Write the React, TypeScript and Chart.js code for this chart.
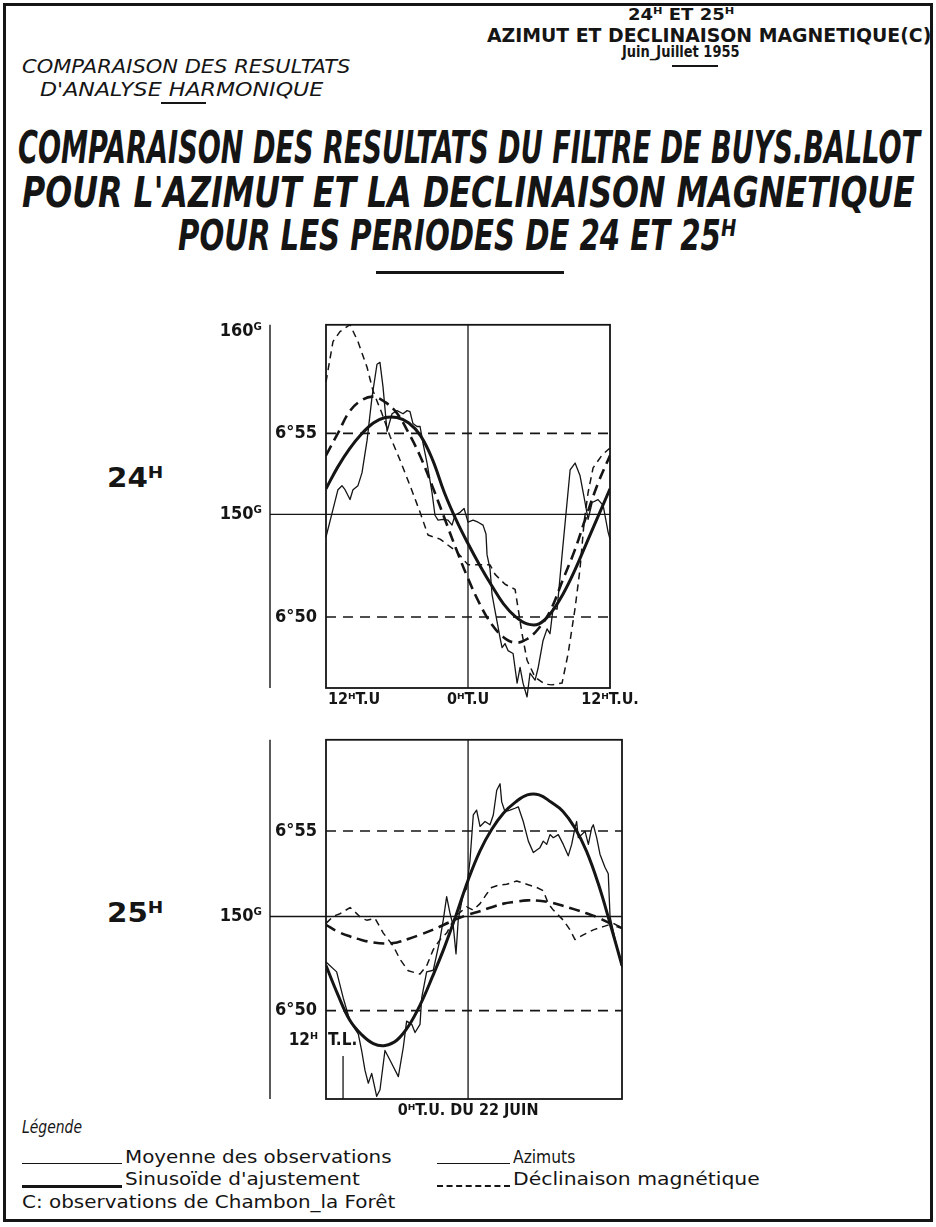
import React, { useEffect, useLayoutEffect, useRef, useState } from 'react';
import { Chart, registerables } from 'chart.js';

Chart.register(...registerables);

const INK = '#151515';
const LETTER = "'DejaVu Sans Condensed', 'Liberation Sans Narrow', 'DejaVu Sans', sans-serif";
const PLAIN = "'DejaVu Sans', 'Liberation Sans', sans-serif";

// ---------------- DATA ----------------
// Upper panel (24h period). x = hours counted from 12h T.U. (0 .. 24)
const fitHours24 = [0, 1, 2, 3, 4, 5, 6, 7, 8, 9, 10, 11, 12, 13, 14, 15, 16, 17, 18, 19, 20, 21, 22, 23, 24];
// Azimut, sinusoid of adjustment (grades)
const azFit24 = [151.4, 152.6, 153.6, 154.4, 155.0, 155.3, 155.3, 155.0, 154.3, 153.0, 151.2, 149.7, 148.4, 147.2, 146.1, 145.1, 144.4, 144.0, 144.0, 144.6, 145.6, 146.9, 148.4, 149.9, 151.4];
// Declination, sinusoid of adjustment (minutes after 6°)
const decFit24 = [54.4, 55.0, 55.6, 55.9, 56.0, 55.85, 55.55, 55.0, 54.35, 53.55, 52.7, 51.85, 51.05, 50.35, 49.8, 49.45, 49.3, 49.4, 49.7, 50.2, 51.0, 51.8, 52.75, 53.65, 54.4];
// Azimut, mean of observations [hour, grades]
const azObs24 = [
  [0, 148.76], [0.59, 150.27], [1.01, 151.35], [1.35, 151.57], [1.61, 151.35], [2.03, 150.81], [2.28, 151.35],
  [2.7, 151.57], [3.04, 152.27], [3.47, 154.05], [3.89, 156.43], [4.31, 158.22], [4.56, 158.32], [4.82, 156.97],
  [5.16, 154.54], [5.58, 155.51], [6.0, 155.68], [6.51, 155.51], [6.85, 155.68], [7.1, 155.62], [7.35, 154.97],
  [7.69, 154.81], [7.95, 154.81], [8.2, 153.89], [8.54, 152.81], [8.96, 151.19], [9.21, 149.95], [9.47, 149.68],
  [9.89, 149.73], [10.31, 149.68], [10.65, 149.41], [10.9, 149.95], [11.33, 150.11], [11.67, 150.32], [12.0, 149.57],
  [12.43, 149.68], [12.85, 149.57], [13.27, 149.41], [13.52, 148.92], [13.61, 147.78], [13.86, 147.03], [14.03, 145.62],
  [14.29, 144.7], [14.71, 143.24], [14.88, 142.7], [15.13, 142.92], [15.38, 142.54], [15.81, 142.38], [16.15, 140.76],
  [16.4, 141.62], [16.65, 140.76], [16.99, 140.0], [17.24, 141.3], [17.67, 140.92], [17.92, 141.57], [18.34, 143.08],
  [18.68, 143.73], [18.93, 143.46], [19.19, 144.86], [19.53, 144.81], [19.95, 147.78], [20.63, 152.43], [21.05, 152.81],
  [21.47, 152.11], [21.89, 150.65], [22.15, 149.73], [22.49, 150.65], [22.99, 150.81], [23.42, 150.49], [23.84, 149.03],
  [24.0, 148.65],
];
// Declination, mean of observations [hour, minutes after 6°]
const decObs24 = [
  [0, 56.4], [0.59, 57.5], [1.18, 57.77], [2.03, 57.96], [2.7, 57.5], [3.47, 56.8], [3.97, 56.16], [4.73, 55.54],
  [5.41, 54.92], [6.26, 54.27], [7.1, 53.58], [7.95, 52.85], [8.62, 52.23], [9.64, 52.12], [11.07, 51.77], [12.0, 51.42],
  [13.86, 51.42], [14.29, 51.16], [15.13, 50.89], [15.98, 50.75], [16.23, 50.24], [16.57, 49.54], [16.99, 48.82],
  [17.67, 48.36], [18.51, 48.17], [19.1, 48.15], [19.95, 48.2], [20.46, 49.0], [21.05, 50.24], [21.47, 51.32],
  [21.81, 52.58], [22.15, 53.39], [22.57, 54.06], [23.33, 54.41], [24.0, 54.6],
];

// Lower panel (25h period). x = hours counted from 12h T.U. of 21 June (0 .. 25)
const fitHours25 = [0, 1, 2, 3, 4, 5, 6, 7, 8, 9, 10, 11, 12, 13, 14, 15, 16, 17, 18, 19, 20, 21, 22, 23, 24, 25];
const azFit25 = [147.3, 145.7, 144.3, 143.5, 143.0, 142.9, 143.2, 144.0, 145.2, 146.7, 148.3, 150.1, 152.0, 153.6, 154.8, 155.7, 156.3, 156.7, 156.7, 156.3, 155.8, 154.9, 153.6, 151.8, 149.6, 147.3];
const decFit25 = [52.39, 52.2, 52.07, 51.97, 51.9, 51.87, 51.9, 52.0, 52.12, 52.25, 52.4, 52.55, 52.67, 52.77, 52.88, 52.98, 53.03, 53.07, 53.06, 53.01, 52.92, 52.82, 52.71, 52.59, 52.43, 52.3];
const azObs25 = [
  [0, 147.49], [0.9, 146.95], [1.46, 145.5], [2.03, 144.24], [2.73, 143.52], [3.01, 142.62], [3.29, 141.54],
  [3.57, 140.82], [3.86, 141.36], [4.28, 140.1], [4.56, 140.46], [4.98, 142.62], [5.41, 142.08], [6.11, 141.18],
  [6.53, 142.8], [6.81, 144.24], [7.24, 144.06], [7.52, 143.61], [7.94, 144.06], [8.08, 145.5], [8.5, 146.95],
  [9.06, 147.04], [9.63, 148.75], [9.91, 149.83], [10.19, 151.09], [10.47, 150.19], [10.75, 149.47], [10.98, 147.94],
  [11.17, 149.83], [11.6, 151.27], [11.88, 151.54], [12.16, 153.07], [12.44, 155.59], [12.72, 155.86], [13.01, 154.96],
  [13.43, 155.23], [13.85, 155.05], [14.13, 155.59], [14.42, 156.95], [14.7, 157.31], [14.84, 156.31], [15.12, 155.77],
  [15.54, 155.86], [15.96, 155.96], [16.24, 156.04], [16.66, 155.23], [17.09, 154.15], [17.51, 153.52], [18.07, 153.79],
  [18.35, 154.15], [18.64, 153.97], [18.92, 154.51], [19.2, 154.34], [19.62, 154.51], [20.04, 153.97], [20.46, 153.34],
  [20.75, 153.97], [21.03, 154.88], [21.17, 155.23], [21.31, 154.34], [21.6, 154.51], [21.88, 154.69], [22.16, 153.97],
  [22.44, 154.88], [22.58, 155.05], [22.86, 154.34], [23.14, 153.43], [23.56, 152.71], [23.84, 152.35], [23.99, 150.0],
  [24.4, 148.8], [25, 147.2],
];
const decObs25 = [
  [0, 52.43], [0.62, 52.63], [1.18, 52.7], [2.03, 52.87], [2.45, 52.75], [3.01, 52.57], [3.44, 52.52], [4.14, 52.57],
  [4.84, 52.16], [5.68, 51.8], [6.25, 51.43], [6.95, 51.11], [7.94, 51.02], [8.5, 51.25], [9.06, 51.7], [9.63, 51.98],
  [10.19, 52.16], [10.62, 52.43], [11.04, 52.66], [11.88, 52.89], [12.44, 52.8], [13.01, 52.98], [13.57, 53.25],
  [13.99, 53.43], [14.42, 53.48], [15.26, 53.52], [16.11, 53.61], [16.95, 53.52], [17.8, 53.43], [18.35, 53.34],
  [18.78, 52.98], [19.2, 52.8], [20.04, 52.52], [20.61, 52.25], [21.03, 51.98], [21.73, 52.11], [22.58, 52.25],
  [23.42, 52.34], [24.27, 52.43], [25, 52.3],
];

// axis ticks
const azTicks24 = [150, 160];
const azTicks25 = [150];
const decTicks = [50, 55]; // 6°50 and 6°55
const xLabels24 = [
  { value: 0, text: '12ᴴT.U', align: 'left' },
  { value: 12, text: '0ᴴT.U', align: 'center' },
  { value: 24, text: '12ᴴT.U.', align: 'center' },
];
const xLabels25 = [{ value: 12, text: '0ᴴT.U. DU 22 JUIN', align: 'center' }];
const tlMarkHour = 1.44; // "12ᴴ T.L." mark on the lower panel
const tlMarkTop = 48.74;

// ---------------- CHART ----------------
type Spec = {
  box: { left: number; top: number; width: number; height: number };
  padding: { top: number; right: number; bottom: number; left: number };
  xMax: number;
  mid: number;
  az: [number, number];
  dec: [number, number];
  azTicks: number[];
  fitHours: number[];
  azFit: number[];
  decFit: number[];
  azObs: number[][];
  decObs: number[][];
  xLabels: { value: number; text: string; align: string }[];
  tl?: boolean;
};

const topSpec: Spec = {
  box: { left: 190, top: 305, width: 460, height: 430 },
  padding: { top: 15, right: 40, bottom: 47, left: 0 },
  xMax: 24,
  mid: 12,
  az: [140.49, 160.38],
  dec: [48.065, 57.957],
  azTicks: azTicks24,
  fitHours: fitHours24,
  azFit: azFit24,
  decFit: decFit24,
  azObs: azObs24,
  decObs: decObs24,
  xLabels: xLabels24,
};

const bottomSpec: Spec = {
  box: { left: 190, top: 720, width: 460, height: 420 },
  padding: { top: 13, right: 28, bottom: 41, left: 0 },
  xMax: 25,
  mid: 12,
  az: [139.95, 159.73],
  dec: [47.541, 57.541],
  azTicks: azTicks25,
  fitHours: fitHours25,
  azFit: azFit25,
  decFit: decFit25,
  azObs: azObs25,
  decObs: decObs25,
  xLabels: xLabels25,
  tl: true,
};

function makePlugin(spec: Spec) {
  const line = (ctx: CanvasRenderingContext2D, x1: number, y1: number, x2: number, y2: number) => {
    ctx.beginPath();
    ctx.moveTo(x1, y1);
    ctx.lineTo(x2, y2);
    ctx.stroke();
  };
  return {
    id: 'frame',
    beforeDatasetsDraw(chart: any) {
      const { ctx, chartArea: a, scales } = chart;
      const x = scales.x, az = scales.az, dec = scales.dec;
      ctx.save();
      ctx.strokeStyle = INK;
      ctx.lineWidth = 1.4;
      line(ctx, az.right, a.top, az.right, a.bottom);
      ctx.lineWidth = 1.8;
      ctx.strokeRect(a.left, a.top, a.right - a.left, a.bottom - a.top);
      ctx.lineWidth = 1.3;
      const xm = x.getPixelForValue(spec.mid);
      line(ctx, xm, a.top, xm, a.bottom);
      const y150 = az.getPixelForValue(150);
      line(ctx, az.right, y150, a.right, y150);
      ctx.lineWidth = 1.6;
      ctx.setLineDash([10, 7]);
      decTicks.forEach((v) => {
        const y = dec.getPixelForValue(v);
        line(ctx, a.left, y, a.right, y);
      });
      ctx.setLineDash([]);
      if (spec.tl) {
        const xt = x.getPixelForValue(tlMarkHour);
        const yt = dec.getPixelForValue(tlMarkTop);
        ctx.lineWidth = 1.3;
        line(ctx, xt, yt, xt, a.bottom);
      }
      ctx.restore();
    },
    afterDatasetsDraw(chart: any) {
      const { ctx, chartArea: a, scales } = chart;
      const x = scales.x, dec = scales.dec;
      ctx.save();
      ctx.fillStyle = INK;
      ctx.font = `bold 16px ${LETTER}`;
      ctx.textBaseline = 'middle';
      spec.xLabels.forEach((l) => {
        ctx.textAlign = l.align as CanvasTextAlign;
        const px = x.getPixelForValue(l.value) + (l.align === 'left' ? 2 : 0);
        ctx.fillText(l.text, px, a.bottom + 12);
      });
      if (spec.tl) {
        const yt = dec.getPixelForValue(tlMarkTop) - 15;
        ctx.font = `bold 17px ${LETTER}`;
        ctx.textAlign = 'right';
        ctx.fillText('12ᴴ', a.left - 8, yt);
        ctx.textAlign = 'left';
        ctx.fillText('T.L.', a.left + 2, yt);
      }
      ctx.restore();
    },
  };
}

function buildConfig(spec: Spec): any {
  const fitPts = (vals: number[]) => spec.fitHours.map((h, i) => ({ x: h, y: vals[i] }));
  const obsPts = (pairs: number[][]) => pairs.map((p) => ({ x: p[0], y: p[1] }));
  const base = { borderColor: INK, pointRadius: 0, fill: false, borderCapStyle: 'butt', borderJoinStyle: 'round' };
  return {
    type: 'line',
    data: {
      datasets: [
        { ...base, label: 'Azimuts — moyenne des observations', data: obsPts(spec.azObs), yAxisID: 'az', borderWidth: 1.3, tension: 0, clip: false },
        { ...base, label: "Azimuts — sinusoïde d'ajustement", data: fitPts(spec.azFit), yAxisID: 'az', borderWidth: 3, tension: 0.4 },
        { ...base, label: 'Déclinaison — moyenne des observations', data: obsPts(spec.decObs), yAxisID: 'dec', borderWidth: 1.5, borderDash: [7, 5], tension: 0, clip: false },
        { ...base, label: "Déclinaison — sinusoïde d'ajustement", data: fitPts(spec.decFit), yAxisID: 'dec', borderWidth: 2.6, borderDash: [11, 6], tension: 0.4 },
      ],
    },
    options: {
      animation: false,
      responsive: false,
      events: [],
      layout: { padding: spec.padding, autoPadding: false },
      plugins: { legend: { display: false }, tooltip: { enabled: false } },
      scales: {
        x: { type: 'linear', min: 0, max: spec.xMax, display: false },
        dec: {
          type: 'linear',
          position: 'left',
          weight: 0,
          min: spec.dec[0],
          max: spec.dec[1],
          afterBuildTicks: (s: any) => { s.ticks = decTicks.map((v) => ({ value: v })); },
          afterFit: (s: any) => { s.width = 56; },
          grid: { display: false, drawTicks: false },
          border: { display: false },
          ticks: { callback: (v: number) => `6°${v}`, color: INK, padding: 9, font: { family: LETTER, size: 18, weight: 'bold' } },
        },
        az: {
          type: 'linear',
          position: 'left',
          weight: 1,
          min: spec.az[0],
          max: spec.az[1],
          afterBuildTicks: (s: any) => { s.ticks = spec.azTicks.map((v) => ({ value: v })); },
          afterFit: (s: any) => { s.width = 80; },
          grid: { display: false, drawTicks: false },
          border: { display: false },
          ticks: { callback: (v: number) => `${v}ᴳ`, color: INK, padding: 8, font: { family: LETTER, size: 18, weight: 'bold' } },
        },
      },
    },
    plugins: [makePlugin(spec)],
  };
}

function Panel({ spec }: { spec: Spec }) {
  const ref = useRef<HTMLCanvasElement>(null);
  useEffect(() => {
    if (!ref.current) return;
    const chart = new Chart(ref.current, buildConfig(spec));
    return () => chart.destroy();
  }, [spec]);
  const b = spec.box;
  return (
    <canvas
      ref={ref}
      width={b.width}
      height={b.height}
      style={{ position: 'absolute', left: b.left, top: b.top, width: b.width, height: b.height }}
    />
  );
}

// ---------------- TEXT ----------------
function FitText(props: {
  x: number; capTop: number; capH: number; width: number; text: string;
  weight?: number; italic?: boolean; family?: string;
}) {
  const { x, capTop, capH, width, text, weight = 700, italic = false, family = LETTER } = props;
  const ref = useRef<HTMLSpanElement>(null);
  const [sx, setSx] = useState(1);
  const fs = capH / 0.73;
  useLayoutEffect(() => {
    const el = ref.current;
    if (el && el.offsetWidth > 0) setSx(width / el.offsetWidth);
  }, [width, text, fs]);
  return (
    <span
      ref={ref}
      style={{
        position: 'absolute', left: x, top: capTop - 0.12 * fs, fontSize: fs, lineHeight: 1,
        fontFamily: family, fontWeight: weight, fontStyle: italic ? 'italic' : 'normal',
        whiteSpace: 'nowrap', transform: `scaleX(${sx})`, transformOrigin: '0 0', color: INK,
      }}
    >
      {text}
    </span>
  );
}

function HLine({ x1, x2, y, w = 2, dash = false }: { x1: number; x2: number; y: number; w?: number; dash?: boolean }) {
  return (
    <div style={{ position: 'absolute', left: x1, top: y - w / 2, width: x2 - x1, height: 0, borderTop: `${w}px ${dash ? 'dashed' : 'solid'} ${INK}` }} />
  );
}

export default function App() {
  return (
    <div style={{ position: 'absolute', left: 0, top: 0, width: 936, height: 1227, background: '#fff', overflow: 'hidden' }}>
      <div style={{ position: 'absolute', left: 3, top: 3, width: 930, height: 1219, border: `3px solid ${INK}`, boxSizing: 'border-box' }} />

      <FitText x={628} capTop={9} capH={12} width={106} text="24ᴴ ET 25ᴴ" />
      <FitText x={487} capTop={28} capH={14} width={444} text="AZIMUT ET DECLINAISON MAGNETIQUE(C)" />
      <FitText x={622} capTop={46} capH={12} width={118} text="Juin_Juillet 1955" />
      <HLine x1={672} x2={718} y={66} w={2} />
      <FitText x={22} capTop={59} capH={14} width={328} text="COMPARAISON DES RESULTATS" italic weight={400} />
      <FitText x={40} capTop={82} capH={14} width={283} text="D'ANALYSE HARMONIQUE" italic weight={400} />
      <HLine x1={161} x2={206} y={103} w={2} />

      <FitText x={18} capTop={130} capH={33} width={902} text="COMPARAISON DES RESULTATS DU FILTRE DE BUYS.BALLOT" italic />
      <FitText x={22} capTop={177} capH={31} width={893} text="POUR L'AZIMUT ET LA DECLINAISON  MAGNETIQUE" italic />
      <FitText x={178} capTop={220} capH={31} width={558} text="POUR LES PERIODES DE 24 ET 25ᴴ" italic />
      <HLine x1={376} x2={564} y={272} w={3} />

      <FitText x={107} capTop={467} capH={20} width={56} text="24ᴴ" />
      <FitText x={107} capTop={902} capH={20} width={56} text="25ᴴ" />

      <Panel spec={topSpec} />
      <Panel spec={bottomSpec} />

      <FitText x={22} capTop={1120} capH={13} width={60} text="Légende" italic weight={400} />
      <HLine x1={22} x2={122} y={1164} w={1.5} />
      <FitText x={125} capTop={1150} capH={13} width={267} text="Moyenne des observations" weight={400} family={PLAIN} />
      <HLine x1={437} x2={510} y={1164} w={1.5} />
      <FitText x={513} capTop={1150} capH={13} width={62} text="Azimuts" weight={400} family={PLAIN} />
      <HLine x1={22} x2={122} y={1186} w={3} />
      <FitText x={125} capTop={1172} capH={13} width={235} text="Sinusoïde d'ajustement" weight={400} family={PLAIN} />
      <HLine x1={437} x2={510} y={1186} w={2} dash />
      <FitText x={513} capTop={1172} capH={13} width={247} text="Déclinaison magnétique" weight={400} family={PLAIN} />
      <FitText x={22} capTop={1195} capH={13} width={373} text="C: observations de Chambon_la Forêt" weight={400} family={PLAIN} />
    </div>
  );
}
